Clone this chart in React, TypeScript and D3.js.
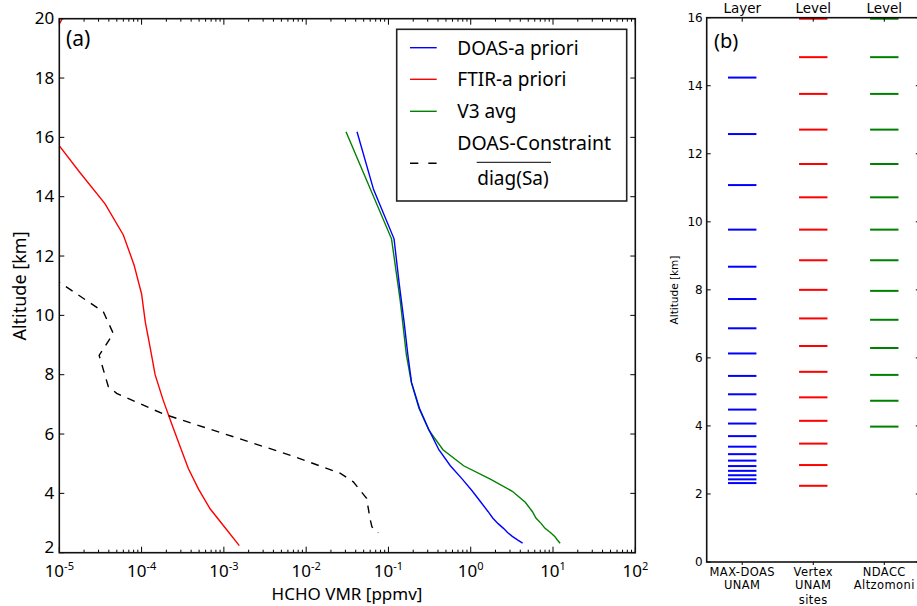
import React from "react";
import * as d3 from "d3";

// ---------- Panel (a) data ----------
const doasAlt = [16.19, 14.24, 12.58, 11.08, 9.77, 8.68, 7.73, 6.87, 6.13, 5.47, 4.93, 4.48, 4.07, 3.70, 3.39, 3.17, 2.98, 2.82, 2.68, 2.55, 2.43, 2.32];
const doasVal = [0.0415, 0.066, 0.117, 0.135, 0.155, 0.172, 0.191, 0.238, 0.312, 0.41, 0.565, 0.79, 1.05, 1.33, 1.62, 1.85, 2.15, 2.5, 2.8, 3.2, 3.7, 4.27];

const v3Alt = [16.19, 12.58, 10.5, 8.68, 7.73, 6.87, 6.13, 5.47, 4.93, 4.48, 4.07, 3.70, 3.39, 3.17, 2.98, 2.82, 2.68, 2.55, 2.43, 2.32];
const v3Val = [0.0305, 0.109, 0.139, 0.165, 0.19, 0.235, 0.31, 0.46, 0.82, 1.73, 3.2, 4.6, 5.6, 6.2, 7.2, 8.0, 9.3, 10.5, 11.3, 12.2];

const ftirAlt = [2.24, 2.85, 3.48, 4.15, 4.84, 5.59, 6.35, 7.16, 8.0, 8.87, 9.77, 10.72, 11.70, 12.71, 13.76, 14.84, 15.97, 17.1, 18.2, 19.3, 20.4];
const ftirVal = [1.54e-3, 1.03e-3, 6.8e-4, 4.9e-4, 3.7e-4, 2.93e-4, 2.32e-4, 1.82e-4, 1.46e-4, 1.28e-4, 1.11e-4, 1.0e-4, 8.1e-5, 6.0e-5, 3.6e-5, 1.75e-5, 8.5e-6, 6e-6, 5e-6, 7.9e-6, 1.3e-5];

const constrAlt = [11.25, 10.12, 9.39, 8.65, 7.6, 7.37, 6.675, 6.0, 5.27, 4.68, 4.39, 3.83, 3.16, 2.87, 2.67];
const constrVal = [8.5e-6, 3.43e-5, 4.53e-5, 3.05e-5, 3.94e-5, 4.98e-5, 1.84e-4, 1.03e-3, 6.67e-3, 0.0258, 0.0374, 0.0543, 0.0596, 0.063, 0.0752];

const xTickExps = [-5, -4, -3, -2, -1, 0, 1, 2];
const yTicksA = [2, 4, 6, 8, 10, 12, 14, 16, 18, 20];

// ---------- Panel (b) data ----------
const siteTop = ["Layer", "Level", "Level"];
const siteBottom = [["MAX-DOAS", "UNAM"], ["Vertex", "UNAM"], ["NDACC", "Altzomoni"]];
const maxdoasLayers = [2.32, 2.43, 2.55, 2.68, 2.82, 2.98, 3.17, 3.39, 3.70, 4.07, 4.48, 4.93, 5.47, 6.13, 6.87, 7.73, 8.68, 9.77, 11.08, 12.58, 14.24];
const vertexLevels = [2.24, 2.85, 3.48, 4.15, 4.84, 5.59, 6.35, 7.16, 8.0, 8.87, 9.77, 10.72, 11.70, 12.71, 13.76, 14.84, 15.97];
const ndaccLevels = [3.98, 4.74, 5.50, 6.29, 7.12, 7.97, 8.87, 9.77, 10.72, 11.70, 12.71, 13.76, 14.84, 15.97];
const yTicksB = [0, 2, 4, 6, 8, 10, 12, 14, 16];

const FONT = "'Noto Sans', 'Open Sans', sans-serif";
const FONT_B = "'DejaVu Sans', sans-serif";
const BLUE = "#0000ff";
const RED = "#ff0000";
const GREEN = "#008000";

export default function App() {
  // Panel (a) scales
  const ax0 = 59.3, ax1 = 635.3, ay0 = 18.7, ay1 = 552.7;
  const xA = d3.scaleLog().domain([1e-5, 1e2]).range([ax0, ax1]);
  const yA = d3.scaleLinear().domain([2, 20]).range([ay1, ay0]);
  const line = d3.line<[number, number]>().x((d) => xA(d[1])).y((d) => yA(d[0]));
  const zip = (a: number[], v: number[]) => a.map((h, i) => [h, v[i]] as [number, number]);

  const minorTicks: number[] = [];
  for (let e = -5; e < 2; e++) for (let m = 2; m <= 9; m++) minorTicks.push(m * Math.pow(10, e));

  // Panel (b) scales
  const bx0 = 706.7, bx1 = 919.8, by0 = 17.7, by1 = 562;
  const xB = d3.scaleLinear().domain([0.5, 3.5]).range([bx0, bx1]);
  const yB = d3.scaleLinear().domain([0, 16]).range([by1, by0]);
  const levelSets = [
    { vals: maxdoasLayers, color: BLUE },
    { vals: vertexLevels, color: RED },
    { vals: ndaccLevels, color: GREEN },
  ];

  const lgX = 396.7, lgY = 29.3;

  return (
    <svg width={917} height={606} style={{ position: "fixed", left: 0, top: 0, background: "#fff" }} fontFamily={FONT}>
      <rect x={0} y={0} width={917} height={606} fill="#fff" />
      <defs>
        <clipPath id="clipA">
          <rect x={ax0} y={ay0} width={ax1 - ax0} height={ay1 - ay0} />
        </clipPath>
      </defs>

      {/* ===== Panel (a) ===== */}
      <g clipPath="url(#clipA)" fill="none" strokeWidth={1.4}>
        <path d={line(zip(ftirAlt, ftirVal)) || ""} stroke={RED} />
        <path d={line(zip(constrAlt, constrVal)) || ""} stroke="#000" strokeDasharray="8,7" />
        <path d={line(zip(v3Alt, v3Val)) || ""} stroke={GREEN} />
        <path d={line(zip(doasAlt, doasVal)) || ""} stroke={BLUE} />
      </g>

      {/* ticks */}
      <g stroke="#000" strokeWidth={1}>
        {xTickExps.map((e) => {
          const x = xA(Math.pow(10, e));
          return (
            <g key={"xt" + e}>
              <line x1={x} x2={x} y1={ay1} y2={ay1 - 6} />
              <line x1={x} x2={x} y1={ay0} y2={ay0 + 6} />
            </g>
          );
        })}
        {minorTicks.map((v, i) => {
          const x = xA(v);
          return (
            <g key={"mt" + i}>
              <line x1={x} x2={x} y1={ay1} y2={ay1 - 3} />
              <line x1={x} x2={x} y1={ay0} y2={ay0 + 3} />
            </g>
          );
        })}
        {yTicksA.map((t) => {
          const y = yA(t);
          return (
            <g key={"yt" + t}>
              <line x1={ax0} x2={ax0 + 5} y1={y} y2={y} />
              <line x1={ax1} x2={ax1 - 5} y1={y} y2={y} />
            </g>
          );
        })}
      </g>
      <rect x={ax0} y={ay0} width={ax1 - ax0} height={ay1 - ay0} fill="none" stroke="#111" strokeWidth={1.6} />

      {/* tick labels */}
      {yTicksA.map((t, i) => (
        <text key={"yl" + t} x={ax0 - 5} y={yA(t) - (i === 0 ? 6 : 0.5)} dy="0.36em" textAnchor="end" fontSize={17} fill="#000">
          {t}
        </text>
      ))}
      {xTickExps.map((e) => (
        <text key={"xl" + e} x={xA(Math.pow(10, e))} y={577} textAnchor="middle" fontSize={17} fill="#000">
          10
          <tspan fontSize={11} dy={-7}>{String(e)}</tspan>
        </text>
      ))}
      <text x={347} y={600} textAnchor="middle" fontSize={17} fill="#000">HCHO VMR [ppmv]</text>
      <text transform="translate(26,286) rotate(-90)" textAnchor="middle" fontSize={18} fill="#000">Altitude [km]</text>
      <text x={66} y={46} fontSize={21} fill="#000">(a)</text>

      {/* legend */}
      <rect x={lgX} y={lgY} width={230} height={171.7} fill="#fff" stroke="#222" strokeWidth={1.6} />
      <line x1={410} x2={436.7} y1={47.7} y2={47.7} stroke={BLUE} strokeWidth={1.4} />
      <line x1={410} x2={436.7} y1={79.3} y2={79.3} stroke={RED} strokeWidth={1.4} />
      <line x1={410} x2={436.7} y1={111.3} y2={111.3} stroke={GREEN} strokeWidth={1.4} />
      <line x1={410} x2={436.7} y1={163.3} y2={163.3} stroke="#000" strokeWidth={1.4} strokeDasharray="8.3,10" />
      <g fontSize={19} fill="#000">
        <text x={457.3} y={47.7} dy="0.36em">DOAS-a priori</text>
        <text x={457.3} y={79.3} dy="0.36em">FTIR-a priori</text>
        <text x={457.3} y={111.3} dy="0.36em">V3 avg</text>
        <text x={457.3} y={143.3} dy="0.36em" fontSize={19.5}>DOAS-Constraint</text>
        <text x={513} y={178} dy="0.36em" textAnchor="middle">diag(Sa)</text>
      </g>
      <line x1={476.7} x2={551} y1={162.3} y2={162.3} stroke="#000" strokeWidth={1} />

      {/* ===== Panel (b) ===== */}
      <g strokeWidth={2}>
        {levelSets.map((s, si) =>
          s.vals.map((v, i) => (
            <line key={"lv" + si + "-" + i} x1={xB(si + 1 - 0.2)} x2={xB(si + 1 + 0.2)} y1={yB(v)} y2={yB(v)} stroke={s.color} />
          ))
        )}
      </g>
      <g stroke="#000" strokeWidth={1}>
        {yTicksB.map((t) => (
          <g key={"ybt" + t}>
            <line x1={bx0} x2={bx0 + 4} y1={yB(t)} y2={yB(t)} />
            <line x1={bx1} x2={bx1 - 4} y1={yB(t)} y2={yB(t)} />
          </g>
        ))}
        {[1, 2, 3].map((c) => (
          <g key={"xbt" + c}>
            <line x1={xB(c)} x2={xB(c)} y1={by0} y2={by0 + 4} />
            <line x1={xB(c)} x2={xB(c)} y1={by1} y2={by1 + 3} />
          </g>
        ))}
      </g>
      <rect x={bx0} y={by0} width={bx1 - bx0} height={by1 - by0} fill="none" stroke="#111" strokeWidth={1.6} />
      <g fontFamily={FONT_B} fill="#000">
        {yTicksB.map((t) => (
          <text key={"ybl" + t} x={bx0 - 4} y={yB(t)} dy="0.36em" textAnchor="end" fontSize={12}>
            {t}
          </text>
        ))}
        {siteTop.map((s, i) => (
          <text key={"st" + i} x={xB(i + 1)} y={13} textAnchor="middle" fontSize={13.5}>{s}</text>
        ))}
        {siteBottom.map((s, i) => (
          <g key={"sb" + i}>
            <text x={xB(i + 1)} y={575.5} textAnchor="middle" fontSize={11.5} letterSpacing={0.4}>{s[0]}</text>
            <text x={xB(i + 1)} y={589} textAnchor="middle" fontSize={11.5} letterSpacing={0.4}>{s[1]}</text>
          </g>
        ))}
        <text x={xB(2)} y={603.5} textAnchor="middle" fontSize={11.5} letterSpacing={0.4}>sites</text>
        <text transform="translate(678,290) rotate(-90)" textAnchor="middle" fontSize={10.5}>Altitude [km]</text>
        <text x={714} y={48} fontSize={20} fontFamily={FONT}>(b)</text>
      </g>
    </svg>
  );
}
